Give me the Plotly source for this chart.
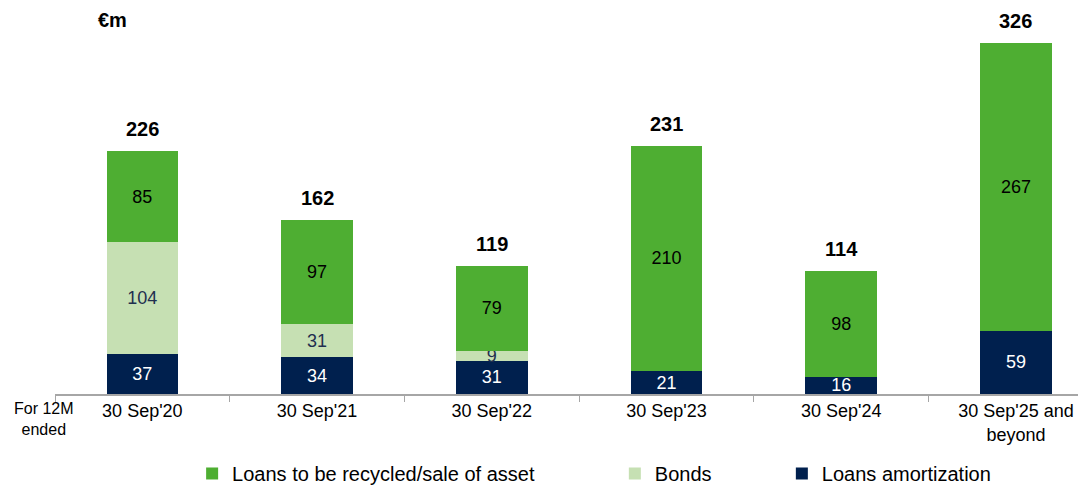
import plotly.graph_objects as go

# ── Data 
periods = ["30 Sep'20", "30 Sep'21", "30 Sep'22", "30 Sep'23", "30 Sep'24",
           "30 Sep'25 and<br>beyond"]
loans_amort = [37, 34, 31, 21, 16, 59]
bonds = [104, 31, 9, 0, 0, 0]
loans_recycled = [85, 97, 79, 210, 98, 267]

# ── Style
FONT = 'Liberation Sans, Arial, sans-serif'
GREEN = '#4EAE32'
LIGHT_GREEN = '#C6E0B3'
NAVY = '#00204E'
AXIS_GREY = '#A6A6A6'

totals = [a + b + c for a, b, c in zip(loans_amort, bonds, loans_recycled)]


def seg_text(vals):
    return [str(v) if v else '' for v in vals]


def add_segment(vals, name, color, text_color, legend):
    fig.add_trace(go.Bar(
        x=periods, y=vals, name=name,
        marker_color=color, marker_line_width=0,
        text=seg_text(vals), textposition='inside', insidetextanchor='middle',
        textangle=0, constraintext='none',
        textfont=dict(color=text_color, size=18, family=FONT),
        legend=legend, width=0.41,
    ))


fig = go.Figure()
add_segment(loans_amort, 'Loans amortization', NAVY, 'white', 'legend4')
add_segment(bonds, 'Bonds', LIGHT_GREEN, '#1F2F4F', 'legend3')
add_segment(loans_recycled, 'Loans to be recycled/sale of asset', GREEN, 'black', 'legend2')

# Totals above each stack
total_notes = [
    dict(x=p, y=t, text=f'<b>{t}</b>', xref='x', yref='y', showarrow=False,
         yanchor='middle', yshift=22,
         font=dict(size=20, family=FONT, color='black'))
    for p, t in zip(periods, totals)
]

LEG = dict(orientation='h', yanchor='middle', y=-0.207, xanchor='left',
           font=dict(size=20, family=FONT, color='black'),
           bgcolor='rgba(0,0,0,0)')

# page body has an 8px margin, so the figure is sized to fit the window
fig.update_layout(
    barmode='stack',
    template='plotly_white',
    width=1078, height=480,
    margin=dict(l=47, r=0, t=2, b=94, autoexpand=False),
    plot_bgcolor='white', paper_bgcolor='white',
    font=dict(family=FONT, size=18, color='black'),
    uniformtext=dict(minsize=18, mode='show'),
    legend2=dict(x=0.133, **LEG),
    legend3=dict(x=0.543, **LEG),
    legend4=dict(x=0.705, **LEG),
    annotations=total_notes + [
        dict(text='<b>€m</b>', xref='paper', yref='paper', x=0.056, y=0.974,
             xanchor='center', yanchor='middle', showarrow=False,
             font=dict(size=20, family=FONT, color='black')),
        dict(text='For 12M<br>ended', xref='paper', yref='paper', x=-0.0105, y=-0.065,
             xanchor='center', yanchor='middle', showarrow=False,
             font=dict(size=16, family=FONT, color='black')),
    ],
)

fig.update_xaxes(
    type='category', range=[-0.5, 5.401], automargin=False,
    showline=True, linecolor=AXIS_GREY, linewidth=1.5,
    ticks='outside', tickson='boundaries', ticklen=6, tickcolor=AXIS_GREY,
    showgrid=False, tickfont=dict(size=18, family=FONT, color='black'),
)
fig.update_yaxes(range=[0, 357], visible=False, showgrid=False, zeroline=False)

fig.write_html("out.html")
